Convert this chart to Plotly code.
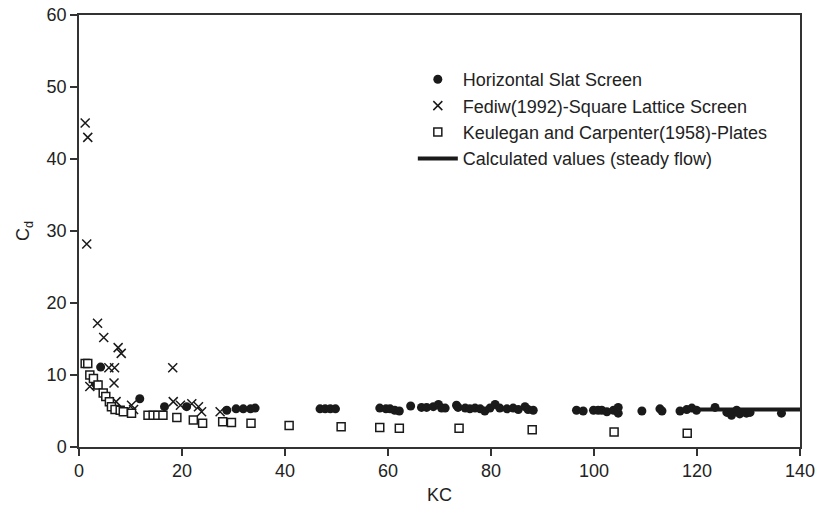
import plotly.graph_objects as go

# Horizontal slat screen measurements (KC, Cd)
slat_kc = [3.2, 4.2, 11.8, 16.6, 20.9, 28.7, 30.5, 31.9, 33.3, 34.2,
           46.8, 47.8, 48.8, 49.8, 58.4, 59.6, 60.4, 61.3, 62.2, 64.4,
           66.5, 67.5, 68.8, 69.8, 70.4, 71.1, 73.3, 73.6, 75.0, 75.9,
           76.9, 77.9, 78.8, 79.8, 80.8, 81.7, 83.1, 84.3, 85.3, 86.6,
           87.2, 88.2, 96.6, 97.9, 99.9, 100.8, 101.5, 102.5, 103.8, 104.7,
           104.7, 109.3, 112.8, 113.2, 116.7, 118.0, 119.0, 119.9, 123.5, 125.8,
           126.7, 127.7, 128.3, 129.6, 130.3, 136.4]
slat_cd = [8.8, 11.1, 6.7, 5.6, 5.6, 5.1, 5.3, 5.3, 5.3, 5.4,
           5.3, 5.3, 5.3, 5.3, 5.4, 5.3, 5.3, 5.1, 5.0, 5.7,
           5.5, 5.5, 5.6, 5.9, 5.4, 5.4, 5.8, 5.5, 5.4, 5.3,
           5.4, 5.3, 5.0, 5.4, 5.9, 5.4, 5.3, 5.4, 5.2, 5.6,
           5.2, 5.1, 5.1, 5.0, 5.1, 5.1, 5.1, 4.9, 5.1, 5.5,
           4.7, 5.0, 5.3, 5.0, 5.0, 5.2, 5.4, 5.1, 5.5, 4.8,
           4.4, 5.1, 4.6, 4.7, 4.8, 4.7]

# Fediw (1992) square lattice screen
fediw_kc = [1.2, 1.7, 1.5, 3.6, 4.8, 7.6, 8.2, 5.8, 6.9, 18.2,
            6.8, 2.1, 3.4, 7.2, 10.2, 10.6, 18.3, 19.7, 21.9, 23.2,
            23.8, 27.4]
fediw_cd = [45.0, 43.0, 28.2, 17.2, 15.2, 13.8, 13.0, 11.0, 11.0, 11.0,
            8.9, 8.4, 8.6, 6.3, 5.8, 5.2, 6.3, 5.8, 6.0, 5.6,
            4.9, 4.9]

# Keulegan and Carpenter (1958) plates
kc_kc = [1.2, 1.7, 2.1, 2.8, 3.7, 4.7, 5.2, 5.9, 6.3, 7.0,
         8.0, 8.6, 10.2, 13.4, 14.4, 15.3, 16.3, 19.0, 22.2, 24.0,
         27.9, 29.6, 33.4, 40.8, 50.9, 58.4, 62.2, 73.8, 88.0, 103.9,
         118.1]
kc_cd = [11.6, 11.6, 10.0, 9.5, 8.6, 7.5, 7.0, 6.3, 5.6, 5.2,
         5.1, 4.9, 4.7, 4.4, 4.4, 4.4, 4.4, 4.1, 3.75, 3.3,
         3.5, 3.4, 3.3, 3.0, 2.8, 2.7, 2.6, 2.6, 2.4, 2.1,
         1.9]

# Steady-flow calculation
calc_kc = [119.3, 140.0]
calc_cd = [5.2, 5.2]

x_ticks = [0, 20, 40, 60, 80, 100, 120, 140]
y_ticks = [0, 10, 20, 30, 40, 50, 60]

FONT = "Liberation Sans, Arial, sans-serif"
INK = "#1a1a1a"

fig = go.Figure()
fig.add_trace(go.Scatter(
    x=slat_kc, y=slat_cd, mode="markers", name="Horizontal Slat Screen",
    marker=dict(symbol="circle", size=9, color=INK, line=dict(width=0)),
))
fig.add_trace(go.Scatter(
    x=fediw_kc, y=fediw_cd, mode="markers",
    name="Fediw(1992)-Square Lattice Screen",
    marker=dict(symbol="x-thin", size=9, color=INK,
                line=dict(width=1.5, color=INK)),
))
fig.add_trace(go.Scatter(
    x=kc_kc, y=kc_cd, mode="markers",
    name="Keulegan and Carpenter(1958)-Plates",
    marker=dict(symbol="square", size=8, color="white",
                line=dict(width=1.5, color=INK)),
))
fig.add_trace(go.Scatter(
    x=calc_kc, y=calc_cd, mode="lines",
    name="Calculated values (steady flow)",
    line=dict(color=INK, width=4),
))

axis_common = dict(
    showline=True, linecolor="#333", linewidth=1.5, mirror=True,
    ticks="outside", ticklen=7, tickwidth=1.5, tickcolor="#333",
    showgrid=False, zeroline=False, automargin=False,
    tickfont=dict(family=FONT, size=18, color="#222"),
)

fig.update_xaxes(range=[0, 140], tickvals=x_ticks,
                 title=dict(text="KC", font=dict(family=FONT, size=18, color="#222"),
                            standoff=8),
                 **axis_common)
fig.update_yaxes(range=[0, 60], tickvals=y_ticks,
                 title=dict(text="C<sub>d</sub>", font=dict(family=FONT, size=18, color="#222"),
                            standoff=12),
                 **axis_common)

fig.update_layout(
    width=818, height=512,
    margin=dict(l=79, r=18, t=15, b=65),
    paper_bgcolor="white", plot_bgcolor="white",
    font=dict(family=FONT, size=18, color="#222"),
    legend=dict(
        x=0.463, y=0.8935, xanchor="left", yanchor="top",
        bgcolor="rgba(0,0,0,0)", borderwidth=0,
        font=dict(family=FONT, size=18, color="#222"),
        itemwidth=40, tracegroupgap=0,
    ),
    showlegend=True,
)

fig.write_html("out.html")
